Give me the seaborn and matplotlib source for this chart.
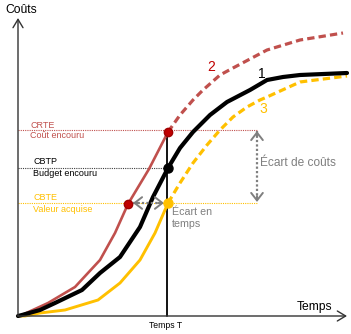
import matplotlib
matplotlib.use("Agg")
import matplotlib.pyplot as plt
import seaborn as sns
import pandas as pd

# ---- data (time, cost) ----
red_t_solid = [0, 4, 30, 57, 82, 97, 110, 131, 150]
red_c_solid = [0, 1, 13, 29, 56, 83, 112, 147, 184]
red_t_dash = [150, 162, 175, 185, 202, 215, 249, 282, 325]
red_c_dash = [184, 201, 216, 226, 241, 248, 266, 276, 283]

black_t = [0, 4, 22, 37, 64, 82, 102, 122, 135, 150, 162, 175, 192, 209, 232, 249, 265, 282, 329]
black_c = [0, 1, 6, 13, 26, 43, 59, 89, 119, 148, 168, 184, 201, 214, 226, 236, 239, 241, 243]

yel_t_solid = [0, 7, 22, 47, 80, 102, 122, 137, 150]
yel_c_solid = [0, 0, 3, 6, 16, 33, 56, 83, 113]
yel_t_dash = [150, 162, 175, 189, 202, 215, 229, 242, 249, 282, 329]
yel_c_dash = [113, 133, 153, 171, 186, 199, 209, 216, 219, 234, 240]

T = 150          # "Temps T"
CRTE = 184       # Coût encouru
CBTP = 148       # Budget encouru
CBTE = 113       # Valeur acquise
ES = 110         # time where red curve reaches CBTE
X_GAP = 239      # position of cost-gap arrow

level_labels = [("CRTE", "Coût encouru"), ("CBTP", "Budget encouru"), ("CBTE", "Valeur acquise")]
curve_labels = ["1", "2", "3"]

RED = "#C0504D"
DRED = "#C00000"
YEL = "#FFC000"
GRAY = "#7F7F7F"

sns.set_theme(style="white")
plt.rcParams["font.family"] = ["Liberation Sans", "DejaVu Sans"]

fig = plt.figure(figsize=(3.51, 3.34), dpi=100)
ax = fig.add_axes([0, 0, 1, 1])
ax.set_xlim(-18, 333)
ax.set_ylim(-18, 316)
ax.axis("off")

def seg(t, c):
    return pd.DataFrame({"t": t, "c": c})

# horizontal dotted reference lines
ax.plot([0, X_GAP], [CRTE + 2, CRTE + 2], ls=(0, (1, 1)), color=RED, lw=0.8)
ax.plot([0, T], [CBTP, CBTP], ls=(0, (1, 1)), color="#404040", lw=0.8)
ax.plot([0, X_GAP], [CBTE, CBTE], ls=(0, (1, 1)), color=YEL, lw=0.8)

# vertical T line
ax.plot([T - 1, T - 1], [0, CRTE], color="black", lw=1.3)

# curves
sns.lineplot(data=seg(red_t_solid, red_c_solid), x="t", y="c", sort=False, estimator=None,
             color=RED, lw=1.9, ax=ax)
sns.lineplot(data=seg(red_t_dash, red_c_dash), x="t", y="c", sort=False, estimator=None,
             color=RED, lw=2.3, ax=ax, dashes=False, linestyle=(0, (2.3, 1.3)))
sns.lineplot(data=seg(yel_t_solid, yel_c_solid), x="t", y="c", sort=False, estimator=None,
             color=YEL, lw=2.1, ax=ax)
sns.lineplot(data=seg(yel_t_dash, yel_c_dash), x="t", y="c", sort=False, estimator=None,
             color=YEL, lw=2.3, ax=ax, dashes=False, linestyle=(0, (2.3, 1.3)))
sns.lineplot(data=seg(black_t, black_c), x="t", y="c", sort=False, estimator=None,
             color="black", lw=3.0, ax=ax)

# axes arrows
ax.annotate("", xy=(0, 298), xytext=(0, 0),
            arrowprops=dict(arrowstyle="->,head_length=0.5,head_width=0.3", color="#333333", lw=1.0,
                            shrinkA=0, shrinkB=0))
ax.annotate("", xy=(329, 0), xytext=(0, 0),
            arrowprops=dict(arrowstyle="->,head_length=0.5,head_width=0.3", color="#333333", lw=1.0,
                            shrinkA=0, shrinkB=0))

# gap arrows (dotted shaft, solid chevron heads)
def gap_arrow(p0, p1):
    ax.plot([p0[0], p1[0]], [p0[1], p1[1]], ls=(0, (1, 1)), color=GRAY, lw=1.6)
    for a, b in ((p0, p1), (p1, p0)):
        dx, dy = b[0] - a[0], b[1] - a[1]
        n = (dx * dx + dy * dy) ** 0.5
        tip = a
        tail = (a[0] + dx / n * 6, a[1] + dy / n * 6)
        ax.annotate("", xy=tip, xytext=tail,
                    arrowprops=dict(arrowstyle="->,head_length=0.45,head_width=0.35", color=GRAY,
                                    lw=1.4, shrinkA=0, shrinkB=0))

gap_arrow((X_GAP, CRTE + 1), (X_GAP, CBTE + 1))
gap_arrow((ES + 5, CBTE), (T - 4, CBTE))

# dots
ax.plot([ES, T], [CBTE - 1, CRTE], "o", ms=6, mfc=DRED, mec="#A00000", mew=1, zorder=5)
ax.plot([T], [CBTP], "o", ms=6.5, color="black", zorder=5)
ax.plot([T], [CBTE], "o", ms=6.5, color=YEL, zorder=5)

# texts
ax.text(-13, 306, "Coûts", fontsize=8.7, ha="left", va="center", color="black")
ax.text(279, 9, "Temps", fontsize=8.7, ha="left", va="center", color="black")
ax.text(148, -10, "Temps T", fontsize=6.2, ha="center", va="center", color="black")

level_pos = [(12, 191, 180, RED), (15, 154, 143, "black"), (15, 118, 107, YEL)]
for (top, bottom), (x, y1, y2, col) in zip(level_labels, level_pos):
    ax.text(x, y1, top, fontsize=6.5, ha="left", va="center", color=col)
    ax.text(x, y2, bottom, fontsize=6.5, ha="left", va="center", color=col)

ax.text(242, 153, "Écart de coûts", fontsize=8.6, ha="left", va="center", color=GRAY)
ax.text(154, 104, "Écart en", fontsize=7.7, ha="left", va="center", color=GRAY)
ax.text(154, 92, "temps", fontsize=7.7, ha="left", va="center", color=GRAY)

for lab, (x, y, col) in zip(curve_labels, [(244, 242, "black"), (193, 249, DRED), (245, 207, YEL)]):
    ax.text(x, y, lab, fontsize=10, ha="center", va="center", color=col)

fig.savefig("out.png", dpi=100)
